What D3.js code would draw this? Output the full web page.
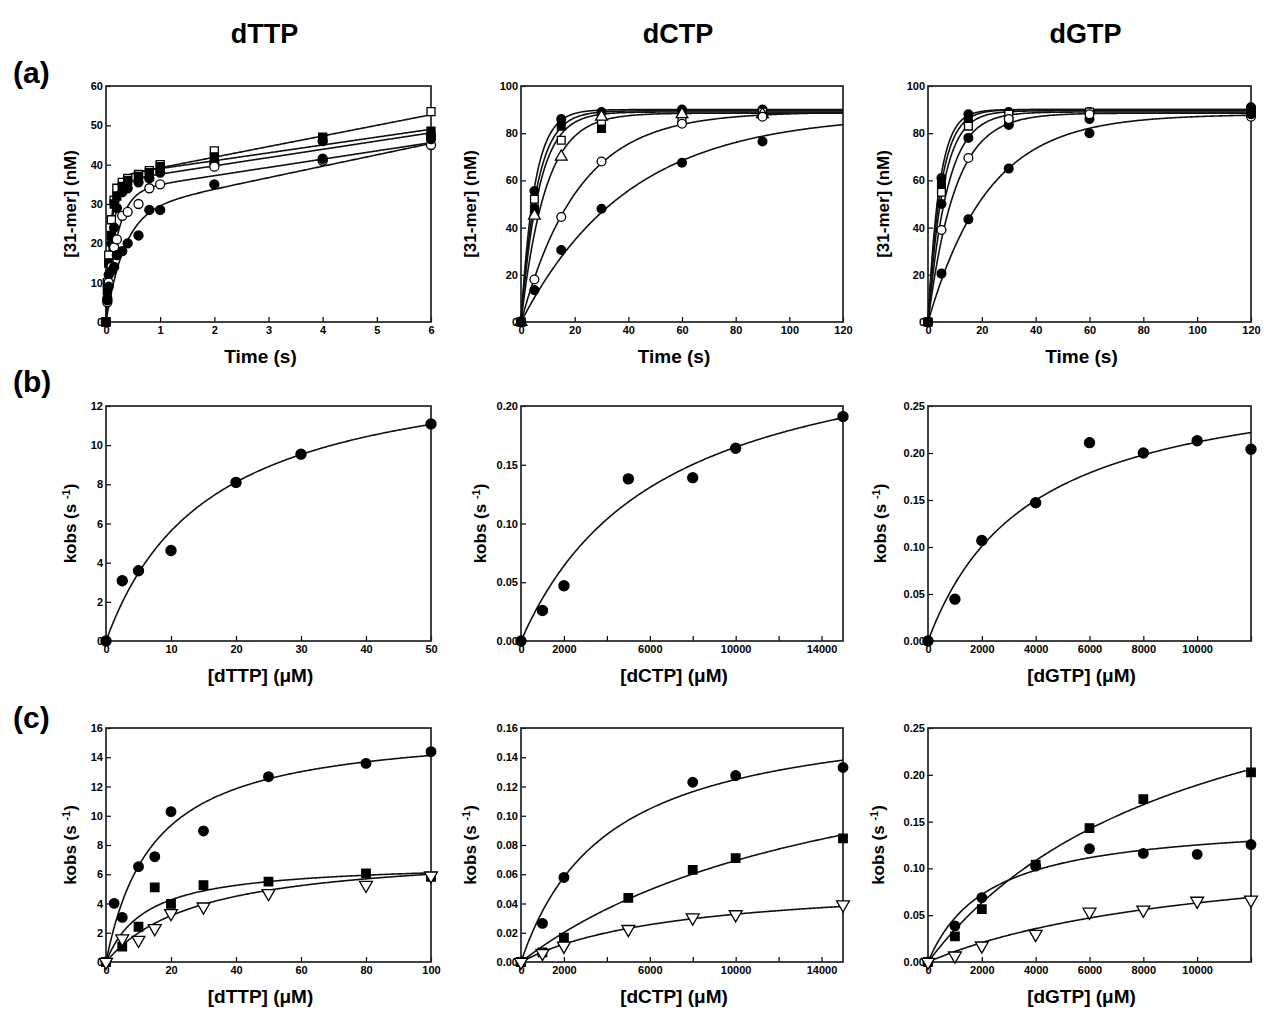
<!DOCTYPE html>
<html>
<head>
<meta charset="utf-8">
<script src="https://cdn.jsdelivr.net/npm/d3@7"></script>
<style>
body { margin: 0; background: #fff; }
svg { font-family: "Liberation Sans", Arial, sans-serif; font-weight: bold; }
.tick text { font-size: 11px; font-weight: bold; }
</style>
</head>
<body>
<script>
// ---------- data ----------
var columns = ["dTTP", "dCTP", "dGTP"];
var rowLabels = ["(a)", "(b)", "(c)"];

// (a) time courses
var ttpTime = [0, 0.025, 0.05, 0.1, 0.15, 0.2, 0.3, 0.4, 0.6, 0.8, 1, 2, 4, 6];
var ttpCourse = [
  [0, 10, 17, 26, 31, 34, 35.5, 36.5, 37.5, 38.5, 40, 43.5, 46.5, 53.5],
  [0, 8, 15, 22, 30, 32, 34.5, 36, 37, 38, 39.5, 42, 47, 48.5],
  [0, 6, 12, 20, 24, 29, 33, 34, 35.5, 36.5, 38, 40.5, 46, 47.5],
  [0, 5, 10, 14, 19, 21, 27, 28, 30, 34, 35, 39.5, 41, 45],
  [0, 5.5, 9, 13, 14, 17, 18, 20, 22, 28.5, 28.5, 35, 41.5, 46.5]
];
var ttpCourseFit = [[36.5, 12, 2.7], [37, 10, 2.0], [35.5, 8, 2.1], [33, 5, 2.1], [28, 3, 2.9]];
var ttpCourseMarks = ["squareOpen", "squareFilled", "circleFilled", "circleOpen", "circleFilled"];

var ctpTime = [0, 5, 15, 30, 60, 90];
var ctpCourse = [
  [0, 55.5, 86, 89, 90, 90],
  [0, 48, 83, 82, 88, 89],
  [0, 52, 77, 85, 86, 89],
  [0, 45, 70, 87, 88, 88],
  [0, 18, 44.5, 68, 84, 87],
  [0, 13.5, 30.5, 48, 67.5, 76.5]
];
var ctpCourseFit = [[90, 0.2], [89.5, 0.17], [89, 0.15], [88.5, 0.11], [89, 0.047], [88, 0.025]];
var ctpCourseMarks = ["circleFilled", "squareFilled", "squareOpen", "triangleOpen", "circleOpen", "circleFilled"];

var gtpTime = [0, 5, 15, 30, 60, 120];
var gtpCourse = [
  [0, 61, 88, 89, 89, 91],
  [0, 58, 85, 85, 88, 90],
  [0, 55, 83, 88, 89, 89],
  [0, 50, 78, 83.5, 86, 90],
  [0, 39, 69.5, 86, 88, 87],
  [0, 20.5, 43.5, 65, 80, 88]
];
var gtpCourseFit = [[90, 0.24], [90, 0.21], [89.5, 0.18], [89, 0.14], [88.5, 0.1], [88, 0.045]];
var gtpCourseMarks = ["circleFilled", "squareFilled", "squareOpen", "circleFilled", "circleOpen", "circleFilled"];

// (b) kobs vs [dNTP]
var ttpConcB = [0, 2.5, 5, 10, 20, 30, 50];
var ttpKobsB = [0, 3.08, 3.59, 4.62, 8.1, 9.54, 11.08];
var ttpFitB = [14.6, 16];
var ctpConcB = [0, 1000, 2000, 5000, 8000, 10000, 15000];
var ctpKobsB = [0, 0.026, 0.047, 0.138, 0.139, 0.164, 0.191];
var ctpFitB = [0.2726, 6522];
var gtpConcB = [0, 1000, 2000, 4000, 6000, 8000, 10000, 12000];
var gtpKobsB = [0, 0.0445, 0.107, 0.147, 0.211, 0.2, 0.213, 0.204];
var gtpFitB = [0.292, 3800];

// (c) kobs vs [dNTP], three series each
var ttpConcC = [0, 2.5, 5, 10, 15, 20, 30, 50, 80, 100];
var ttpKobsC = [
  [0, 4.01, 3.05, 6.52, 7.2, 10.28, 8.96, 12.67, 13.58, 14.38],
  [0, null, 1.05, 2.41, 5.1, 3.97, 5.26, 5.49, 6.06, 5.83],
  [0, null, 1.6, 1.5, 2.3, 3.33, 3.78, 4.7, 5.26, 5.9]
];
var ttpFitC = [[16.2, 14.7], [6.84, 12.2], [7.74, 28.9]];
var ctpConcC = [0, 1000, 2000, 5000, 8000, 10000, 15000];
var ctpKobsC = [
  [0, 0.0264, 0.0578, null, 0.1229, 0.1275, 0.133],
  [0, 0.0066, 0.0167, 0.0438, 0.063, 0.071, 0.0845],
  [0, 0.006, 0.011, 0.0224, 0.0303, 0.0325, 0.0393]
];
var ctpFitC = [[0.1752, 4040], [0.1776, 15612], [0.0564, 7255]];
var gtpConcC = [0, 1000, 2000, 4000, 6000, 8000, 10000, 12000];
var gtpKobsC = [
  [0, 0.0386, 0.0688, 0.1025, 0.121, 0.116, 0.115, 0.1255],
  [0, 0.0273, 0.0564, 0.104, 0.143, 0.174, null, 0.2025],
  [0, 0.0067, 0.0174, 0.0298, 0.0535, 0.0557, 0.0652, 0.0663]
];
var gtpFitC = [[0.1532, 2253], [0.375, 9845], [0.1297, 10558]];
var kobsMarksC = ["circleFilled", "squareFilled", "triangleDownOpen"];

// ---------- layout ----------
var width = 1264, height = 1015;
var colX = [[106, 431], [521, 843], [928, 1251]];
var rowY = [[86, 322], [406, 641], [728, 962]];
var yTitleX = [[70, 470, 883], [70, 480, 880], [70, 470, 878]];

var burst = function(p) { return function(t) { return p[0] * (1 - Math.exp(-p[1] * t)) + p[2] * t; }; };
var expo = function(p) { return function(t) { return p[0] * (1 - Math.exp(-p[1] * t)); }; };
var hyper = function(p) { return function(s) { return p[0] * s / (p[1] + s); }; };

function seriesOf(xs, ys, mark) {
  return xs.map(function(x, i) { return {x: x, y: ys[i]}; })
    .filter(function(d) { return d.y != null; })
    .map(function(d) { d.mark = mark; return d; });
}

var f0 = d3.format(".0f"), f2 = d3.format(".2f");

var panels = [
  {row: 0, col: 0, xd: [0, 6], yd: [0, 60], xt: d3.range(0, 7), xl: d3.range(0, 7), yt: d3.range(0, 61, 10), fmt: f0,
   xTitle: "Time (s)", yTitle: "[31-mer] (nM)", size: 64,
   series: ttpCourse.map(function(s, i) { return seriesOf(ttpTime, s, ttpCourseMarks[i]); }),
   fits: ttpCourseFit.map(burst)},
  {row: 0, col: 1, xd: [0, 120], yd: [0, 100], xt: d3.range(0, 121, 20), xl: d3.range(0, 121, 20), yt: d3.range(0, 101, 20), fmt: f0,
   xTitle: "Time (s)", yTitle: "[31-mer] (nM)", size: 60,
   series: ctpCourse.map(function(s, i) { return seriesOf(ctpTime, s, ctpCourseMarks[i]); }),
   fits: ctpCourseFit.map(expo)},
  {row: 0, col: 2, xd: [0, 120], yd: [0, 100], xt: d3.range(0, 121, 20), xl: d3.range(0, 121, 20), yt: d3.range(0, 101, 20), fmt: f0,
   xTitle: "Time (s)", yTitle: "[31-mer] (nM)", size: 60,
   series: gtpCourse.map(function(s, i) { return seriesOf(gtpTime, s, gtpCourseMarks[i]); }),
   fits: gtpCourseFit.map(expo)},
  {row: 1, col: 0, xd: [0, 50], yd: [0, 12], xt: d3.range(0, 51, 10), xl: d3.range(0, 51, 10), yt: d3.range(0, 13, 2), fmt: f0,
   xTitle: "[dTTP] (\u03bcM)", yTitle: "kobs", size: 80,
   series: [seriesOf(ttpConcB, ttpKobsB, "circleFilled")], fits: [hyper(ttpFitB)]},
  {row: 1, col: 1, xd: [0, 15000], yd: [0, 0.2], xt: d3.range(0, 15001, 2000), xl: [0, 2000, 6000, 10000, 14000], yt: d3.range(0, 0.201, 0.05), fmt: f2,
   xTitle: "[dCTP] (\u03bcM)", yTitle: "kobs", size: 80,
   series: [seriesOf(ctpConcB, ctpKobsB, "circleFilled")], fits: [hyper(ctpFitB)]},
  {row: 1, col: 2, xd: [0, 12000], yd: [0, 0.25], xt: d3.range(0, 12001, 2000), xl: d3.range(0, 10001, 2000), yt: d3.range(0, 0.251, 0.05), fmt: f2,
   xTitle: "[dGTP] (\u03bcM)", yTitle: "kobs", size: 80,
   series: [seriesOf(gtpConcB, gtpKobsB, "circleFilled")], fits: [hyper(gtpFitB)]},
  {row: 2, col: 0, xd: [0, 100], yd: [0, 16], xt: d3.range(0, 101, 20), xl: d3.range(0, 101, 20), yt: d3.range(0, 17, 2), fmt: f0,
   xTitle: "[dTTP] (\u03bcM)", yTitle: "kobs", size: 72,
   series: ttpKobsC.map(function(s, i) { return seriesOf(ttpConcC, s, kobsMarksC[i]); }), fits: ttpFitC.map(hyper)},
  {row: 2, col: 1, xd: [0, 15000], yd: [0, 0.16], xt: d3.range(0, 15001, 2000), xl: [0, 2000, 6000, 10000, 14000], yt: d3.range(0, 0.161, 0.02), fmt: f2,
   xTitle: "[dCTP] (\u03bcM)", yTitle: "kobs", size: 72,
   series: ctpKobsC.map(function(s, i) { return seriesOf(ctpConcC, s, kobsMarksC[i]); }), fits: ctpFitC.map(hyper)},
  {row: 2, col: 2, xd: [0, 12000], yd: [0, 0.25], xt: d3.range(0, 12001, 2000), xl: d3.range(0, 10001, 2000), yt: d3.range(0, 0.251, 0.05), fmt: f2,
   xTitle: "[dGTP] (\u03bcM)", yTitle: "kobs", size: 72,
   series: gtpKobsC.map(function(s, i) { return seriesOf(gtpConcC, s, kobsMarksC[i]); }), fits: gtpFitC.map(hyper)}
];

var svg = d3.select("body").append("svg")
  .attr("width", width)
  .attr("height", height);

// column titles and row letters
columns.forEach(function(c, i) {
  svg.append("text")
    .attr("x", (colX[i][0] + colX[i][1]) / 2 - 4)
    .attr("y", 43)
    .attr("text-anchor", "middle")
    .style("font-size", "27px")
    .text(c);
});
rowLabels.forEach(function(r, i) {
  svg.append("text")
    .attr("x", 13)
    .attr("y", rowY[i][0] - [3, 14, 0][i])
    .style("font-size", "30px")
    .text(r);
});

var symType = {
  circleFilled: d3.symbolCircle, circleOpen: d3.symbolCircle,
  squareFilled: d3.symbolSquare, squareOpen: d3.symbolSquare,
  triangleOpen: d3.symbolTriangle, triangleDownOpen: d3.symbolTriangle
};

panels.forEach(function(p) {
  var x = d3.scaleLinear().domain(p.xd).range(colX[p.col]);
  var y = d3.scaleLinear().domain(p.yd).range([rowY[p.row][1], rowY[p.row][0]]);
  var g = svg.append("g");

  g.append("g")
    .attr("transform", "translate(0," + rowY[p.row][1] + ")")
    .call(d3.axisBottom(x).tickValues(p.xt).tickSizeInner(-5).tickSizeOuter(0).tickPadding(4)
      .tickFormat(function(d) { return p.xl.indexOf(d) >= 0 ? d : ""; }))
    .call(function(a) { a.select(".domain").remove(); });

  g.append("g")
    .attr("transform", "translate(" + colX[p.col][0] + ",0)")
    .call(d3.axisLeft(y).tickValues(p.yt).tickSizeInner(-5).tickSizeOuter(0).tickPadding(3).tickFormat(p.fmt))
    .call(function(a) { a.select(".domain").remove(); });

  g.selectAll(".tick line").attr("stroke-width", 1.2);

  g.append("rect")
    .attr("x", colX[p.col][0])
    .attr("y", rowY[p.row][0])
    .attr("width", colX[p.col][1] - colX[p.col][0])
    .attr("height", rowY[p.row][1] - rowY[p.row][0])
    .attr("fill", "none")
    .attr("stroke", "#222")
    .attr("stroke-width", 1.7);

  // fitted curves
  var xs = d3.range(0, 301).map(function(i) { return p.xd[1] * i / 300; });
  p.fits.forEach(function(fn) {
    g.append("path")
      .attr("d", d3.line().x(function(v) { return x(v); }).y(function(v) { return y(fn(v)); })(xs))
      .attr("fill", "none")
      .attr("stroke", "#111")
      .attr("stroke-width", 1.6);
  });

  // data points
  p.series.forEach(function(s) {
    g.selectAll(null)
      .data(s)
      .enter()
    .append("path")
      .attr("transform", function(d) {
        return "translate(" + x(d.x) + "," + y(d.y) + ")" + (d.mark == "triangleDownOpen" ? " rotate(180)" : "");
      })
      .attr("d", function(d) { return d3.symbol().type(symType[d.mark]).size(p.size)(); })
      .attr("fill", function(d) { return /Filled/.test(d.mark) ? "#000" : "#fff"; })
      .attr("stroke", "#000")
      .attr("stroke-width", 1.3);
  });

  // axis titles
  g.append("text")
    .attr("x", (colX[p.col][0] + colX[p.col][1]) / 2 - 8)
    .attr("y", rowY[p.row][1] + 41)
    .attr("text-anchor", "middle")
    .style("font-size", "19px")
    .text(p.xTitle);

  var yt = g.append("text")
    .attr("transform", "translate(" + (yTitleX[p.row][p.col] + 6) + "," + (rowY[p.row][0] + rowY[p.row][1]) / 2 + ") rotate(-90)")
    .attr("text-anchor", "middle")
    .style("font-size", "17px");
  if (p.yTitle == "kobs") {
    yt.append("tspan").text("kobs (s ");
    yt.append("tspan").attr("dy", -6).style("font-size", "11px").text("-1");
    yt.append("tspan").attr("dy", 6).text(")");
  } else {
    yt.text(p.yTitle);
  }
});
</script>
</body>
</html>
